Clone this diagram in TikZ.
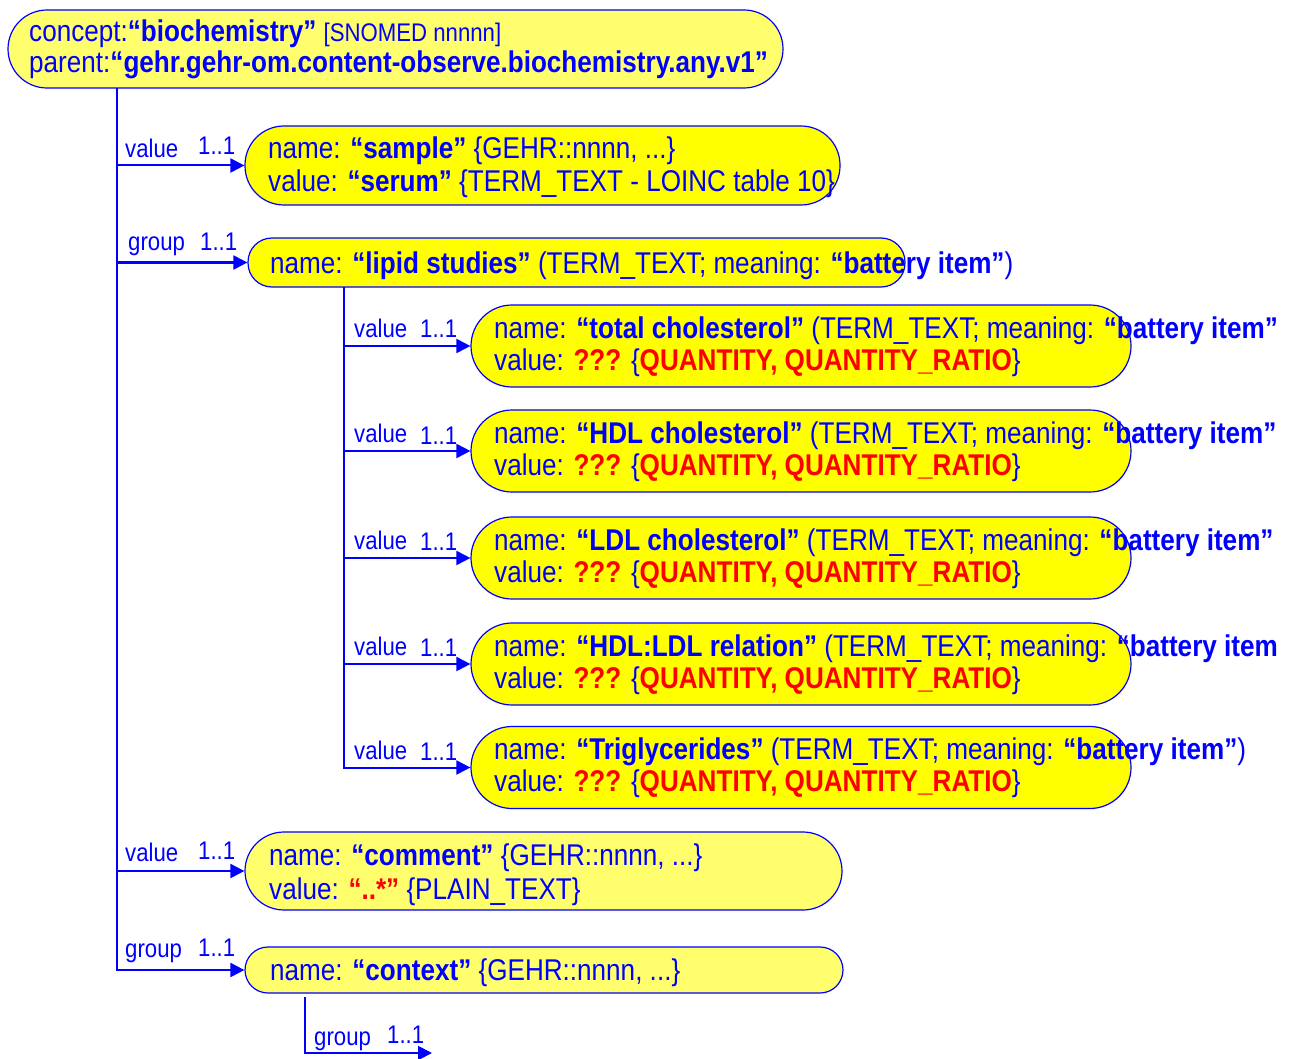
\documentclass[tikz,border=0pt]{standalone}
\usepackage{fontspec}
\setmainfont{Liberation Sans}[FakeStretch=0.87]
\usetikzlibrary{arrows.meta}
\definecolor{tblue}{RGB}{0,0,255}
\definecolor{tred}{RGB}{255,0,0}
\definecolor{fillA}{RGB}{255,255,0}
\definecolor{fillB}{RGB}{255,255,110}
\newcommand\bq[1]{\textbf{“#1”}}
\newcommand\rdb[1]{\textcolor{tred}{\textbf{#1}}}
\newcommand\bigfont{\fontsize{30}{33}\selectfont}
\newcommand\smlfont{\fontsize{25.5}{27}\selectfont}
\begin{document}
\begin{tikzpicture}[x=1pt,y=-1pt,
  box/.style={draw=tblue, line width=1.2pt, rounded corners=#1, inner sep=0pt},
  boxA/.style={box=#1, fill=fillA},
  boxB/.style={box=#1, fill=fillB},
  txt/.style={anchor=base west, inner sep=0pt, text=tblue, font=\bigfont},
  lbl/.style={anchor=base west, inner sep=0pt, text=tblue, font=\smlfont},
  conn/.style={draw=tblue, line width=2pt, -{Triangle[length=14pt,width=14pt]}},
  plain/.style={draw=tblue, line width=2pt}]
\useasboundingbox (0,0) rectangle (1292,1059);
% boxes
\node[boxB=39pt, minimum width=775pt, minimum height=78pt] (top) at (395.5,49) {};
\node[boxA=39pt, minimum width=595pt, minimum height=79pt] (sample) at (542.5,165.5) {};
\node[boxA=24pt, minimum width=657pt, minimum height=49pt] (lipid) at (576.5,262.5) {};
\node[boxA=41pt, minimum width=660pt, minimum height=82pt] (tc) at (801,346) {};
\node[boxA=41pt, minimum width=660pt, minimum height=82pt] (hdl) at (801,451) {};
\node[boxA=41pt, minimum width=660pt, minimum height=82pt] (ldl) at (801,558) {};
\node[boxA=41pt, minimum width=660pt, minimum height=82pt] (rel) at (801,664) {};
\node[boxA=41pt, minimum width=660pt, minimum height=82pt] (tri) at (801,767.5) {};
\node[boxB=39pt, minimum width=597pt, minimum height=78pt] (comment) at (543.5,871) {};
\node[boxB=23pt, minimum width=598pt, minimum height=46pt] (context) at (544,970) {};
% texts
\node[txt] (topA) at (29,42) {concept:\bq{biochemistry} {\smlfont [SNOMED nnnnn]}};
\node[txt] (topB) at (29,73) {parent:\bq{gehr.gehr-om.content-observe.biochemistry.any.v1}};
\node[txt] (sampleA) at (268,159) {name: \bq{sample} \{GEHR::nnnn, ...\}};
\node[txt] (sampleB) at (268,192) {value: \bq{serum} \{TERM\_TEXT - LOINC table 10\}};
\node[txt] (lipidA) at (270,273) {name: \bq{lipid studies} (TERM\_TEXT; meaning: \bq{battery item})};
\node[txt] (tcA) at (494,338) {name: \bq{total cholesterol} (TERM\_TEXT; meaning: \bq{battery item}};
\node[txt] (tcB) at (494,370) {value: \rdb{???} \{\rdb{QUANTITY, QUANTITY\_RATIO}\}};
\node[txt] (hdlA) at (494,443) {name: \bq{HDL cholesterol} (TERM\_TEXT; meaning: \bq{battery item}};
\node[txt] (hdlB) at (494,475) {value: \rdb{???} \{\rdb{QUANTITY, QUANTITY\_RATIO}\}};
\node[txt] (ldlA) at (494,550) {name: \bq{LDL cholesterol} (TERM\_TEXT; meaning: \bq{battery item}};
\node[txt] (ldlB) at (494,582) {value: \rdb{???} \{\rdb{QUANTITY, QUANTITY\_RATIO}\}};
\node[txt] (relA) at (494,656) {name: \bq{HDL:LDL relation} (TERM\_TEXT; meaning: \textbf{“battery item}};
\node[txt] (relB) at (494,688) {value: \rdb{???} \{\rdb{QUANTITY, QUANTITY\_RATIO}\}};
\node[txt] (triA) at (494,759) {name: \bq{Triglycerides} (TERM\_TEXT; meaning: \bq{battery item})};
\node[txt] (triB) at (494,791) {value: \rdb{???} \{\rdb{QUANTITY, QUANTITY\_RATIO}\}};
\node[txt] (commentA) at (269,865) {name: \bq{comment} \{GEHR::nnnn, ...\}};
\node[txt] (commentB) at (269,899) {value: \rdb{“..*”} \{PLAIN\_TEXT\}};
\node[txt] (contextA) at (270,980) {name: \bq{context} \{GEHR::nnnn, ...\}};
% trunk coordinates
\coordinate (trunk) at (117,88);
\coordinate (ltrunk) at (344,287);
\coordinate (ctrunk) at (305,997);
\coordinate (cend) at (432,1053);
% connectors
\draw[conn] (trunk) |- (sample.west);
\draw[conn] (trunk) |- (lipid.west);
\draw[conn] (trunk) |- (comment.west);
\draw[conn] (trunk) |- (context.west);
\draw[conn] (ltrunk) |- (tc.west);
\draw[conn] (ltrunk) |- (hdl.west);
\draw[conn] (ltrunk) |- (ldl.west);
\draw[conn] (ltrunk) |- (rel.west);
\draw[conn] (ltrunk) |- (tri.west);
\draw[conn] (ctrunk) |- (cend);
% labels
\node[lbl] (l1a) at (125,158) {value};
\node[lbl] (l1b) at (198,155) {1..1};
\node[lbl] (l2a) at (128,251) {group};
\node[lbl] (l2b) at (200,251) {1..1};
\node[lbl] (l3a) at (354,337) {value};
\node[lbl] (l3b) at (420,337) {1..1};
\node[lbl] (l4a) at (354,442) {value};
\node[lbl] (l4b) at (420,444) {1..1};
\node[lbl] (l5a) at (354,549) {value};
\node[lbl] (l5b) at (420,550) {1..1};
\node[lbl] (l6a) at (354,655) {value};
\node[lbl] (l6b) at (420,656) {1..1};
\node[lbl] (l7a) at (354,759) {value};
\node[lbl] (l7b) at (420,760) {1..1};
\node[lbl] (l8a) at (125,861) {value};
\node[lbl] (l8b) at (198,859) {1..1};
\node[lbl] (l9a) at (125,957) {group};
\node[lbl] (l9b) at (198,956) {1..1};
\node[lbl] (l10a) at (314,1045) {group};
\node[lbl] (l10b) at (387,1043) {1..1};
\end{tikzpicture}
\end{document}
